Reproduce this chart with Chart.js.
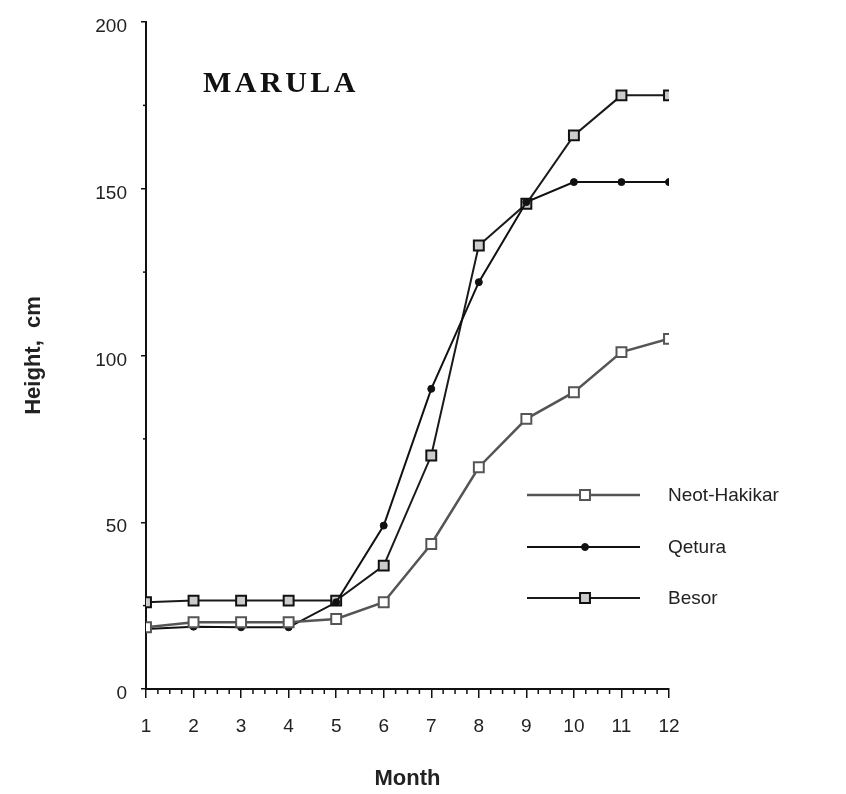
<!DOCTYPE html>
<html>
<head>
<meta charset="utf-8">
<script src="https://cdn.jsdelivr.net/npm/chart.js@4"></script>
<style>
  html, body { margin: 0; padding: 0; background: #fff; }
  #wrap { width: 846px; height: 794px; }
</style>
</head>
<body>
<div id="wrap"><canvas id="chart" width="846" height="794"></canvas></div>
<script>
// data
const months = [1, 2, 3, 4, 5, 6, 7, 8, 9, 10, 11, 12];
const seriesNames = ['Neot-Hakikar', 'Qetura', 'Besor'];
const neotHakikar = [18.5, 20, 20, 20, 21, 26, 43.5, 66.5, 81, 89, 101, 105];
const qetura = [18, 18.7, 18.5, 18.5, 26, 49, 90, 122, 146, 152, 152, 152];
const besor = [26, 26.5, 26.5, 26.5, 26.5, 37, 70, 133, 145.5, 166, 178, 178];
const yTicks = [0, 50, 100, 150, 200];

const toPoints = vals => months.map((m, i) => ({ x: m, y: vals[i] }));

const fontSans = '"Liberation Sans", Arial, Helvetica, sans-serif';

// minor tick marks + legend + panel label
const extras = {
  id: 'extras',
  afterDraw(chart) {
    const ctx = chart.ctx;
    const xs = chart.scales.x, ys = chart.scales.y;
    const area = chart.chartArea;
    ctx.save();
    ctx.strokeStyle = '#111';
    ctx.lineWidth = 1.5;
    // x minor ticks (quarters)
    for (let m = months[0]; m < months[months.length - 1]; m++) {
      for (let k = 1; k < 4; k++) {
        const px = xs.getPixelForValue(m + k / 4);
        ctx.beginPath();
        ctx.moveTo(px, area.bottom);
        ctx.lineTo(px, area.bottom + 5);
        ctx.stroke();
      }
    }
    // y minor ticks
    for (let i = 0; i < yTicks.length - 1; i++) {
      const py = ys.getPixelForValue((yTicks[i] + yTicks[i + 1]) / 2);
      ctx.beginPath();
      ctx.moveTo(area.left, py);
      ctx.lineTo(area.left - 3, py);
      ctx.stroke();
    }

    // panel label
    ctx.fillStyle = '#111';
    ctx.font = 'bold 30px "Liberation Serif", "Times New Roman", serif';
    ctx.letterSpacing = '3.5px';
    ctx.textBaseline = 'alphabetic';
    ctx.textAlign = 'left';
    ctx.fillText('MARULA', 203, 92);
    ctx.letterSpacing = '0px';

    // legend
    const rowY = [495, 547, 598];
    chart.data.datasets.forEach((ds, i) => {
      const y = rowY[i];
      ctx.strokeStyle = ds.borderColor;
      ctx.lineWidth = ds.borderWidth;
      ctx.beginPath();
      ctx.moveTo(527, y);
      ctx.lineTo(640, y);
      ctx.stroke();
      ctx.fillStyle = ds.pointBackgroundColor;
      ctx.strokeStyle = ds.pointBorderColor;
      ctx.lineWidth = ds.pointBorderWidth;
      ctx.beginPath();
      if (ds.pointStyle === 'rect') {
        const s = Math.SQRT1_2 * ds.pointRadius;
        ctx.rect(585 - s, y - s, 2 * s, 2 * s);
      } else {
        ctx.arc(585, y, ds.pointRadius, 0, Math.PI * 2);
      }
      ctx.fill();
      ctx.stroke();
      ctx.fillStyle = '#222';
      ctx.font = '19px ' + fontSans;
      ctx.textBaseline = 'middle';
      ctx.fillText(ds.label, 668, y + 1);
    });
    ctx.restore();
  }
};

new Chart(document.getElementById('chart'), {
  type: 'line',
  data: {
    datasets: [
      {
        label: seriesNames[0],
        data: toPoints(neotHakikar),
        borderColor: '#555',
        borderWidth: 2.5,
        pointStyle: 'rect',
        pointRadius: 7,
        pointBorderWidth: 2,
        pointBackgroundColor: '#fff',
        pointBorderColor: '#555'
      },
      {
        label: seriesNames[1],
        data: toPoints(qetura),
        borderColor: '#111',
        borderWidth: 2,
        pointStyle: 'circle',
        pointRadius: 3.5,
        pointBorderWidth: 1,
        pointBackgroundColor: '#111',
        pointBorderColor: '#111'
      },
      {
        label: seriesNames[2],
        data: toPoints(besor),
        borderColor: '#1a1a1a',
        borderWidth: 2,
        pointStyle: 'rect',
        pointRadius: 7,
        pointBorderWidth: 2,
        pointBackgroundColor: '#ccc',
        pointBorderColor: '#111'
      }
    ]
  },
  options: {
    responsive: false,
    animation: false,
    layout: { padding: { top: 22, right: 177, left: 0, bottom: 0 } },
    plugins: {
      legend: { display: false },
      tooltip: { enabled: false }
    },
    elements: { line: { tension: 0 } },
    scales: {
      x: {
        type: 'linear',
        min: 1,
        max: 12,
        afterFit: s => { s.height = 105; },
        border: { color: '#111', width: 2 },
        grid: { drawOnChartArea: false, tickLength: 9, color: '#111', lineWidth: 1.5 },
        ticks: { stepSize: 1, padding: 17, color: '#222', font: { family: fontSans, size: 19 } },
        title: {
          display: true,
          text: 'Month',
          color: '#222',
          font: { family: fontSans, size: 22, weight: 'bold' },
          padding: { top: 0, bottom: 2 }
        }
      },
      y: {
        min: 0,
        max: 200,
        afterFit: s => { s.width = 146; s.paddingTop = 0; s.paddingBottom = 0; },
        afterBuildTicks: s => { s.ticks = yTicks.map(v => ({ value: v })); },
        border: { color: '#111', width: 2 },
        grid: { drawOnChartArea: false, tickLength: 5, color: '#111', lineWidth: 1.5 },
        ticks: { padding: 14, labelOffset: 5, color: '#222', font: { family: fontSans, size: 19 } },
        title: {
          display: true,
          text: 'Height,  cm',
          color: '#222',
          font: { family: fontSans, size: 22, weight: 'bold' },
          padding: { top: 21, bottom: 0 }
        }
      }
    }
  },
  plugins: [extras]
});
</script>
</body>
</html>
